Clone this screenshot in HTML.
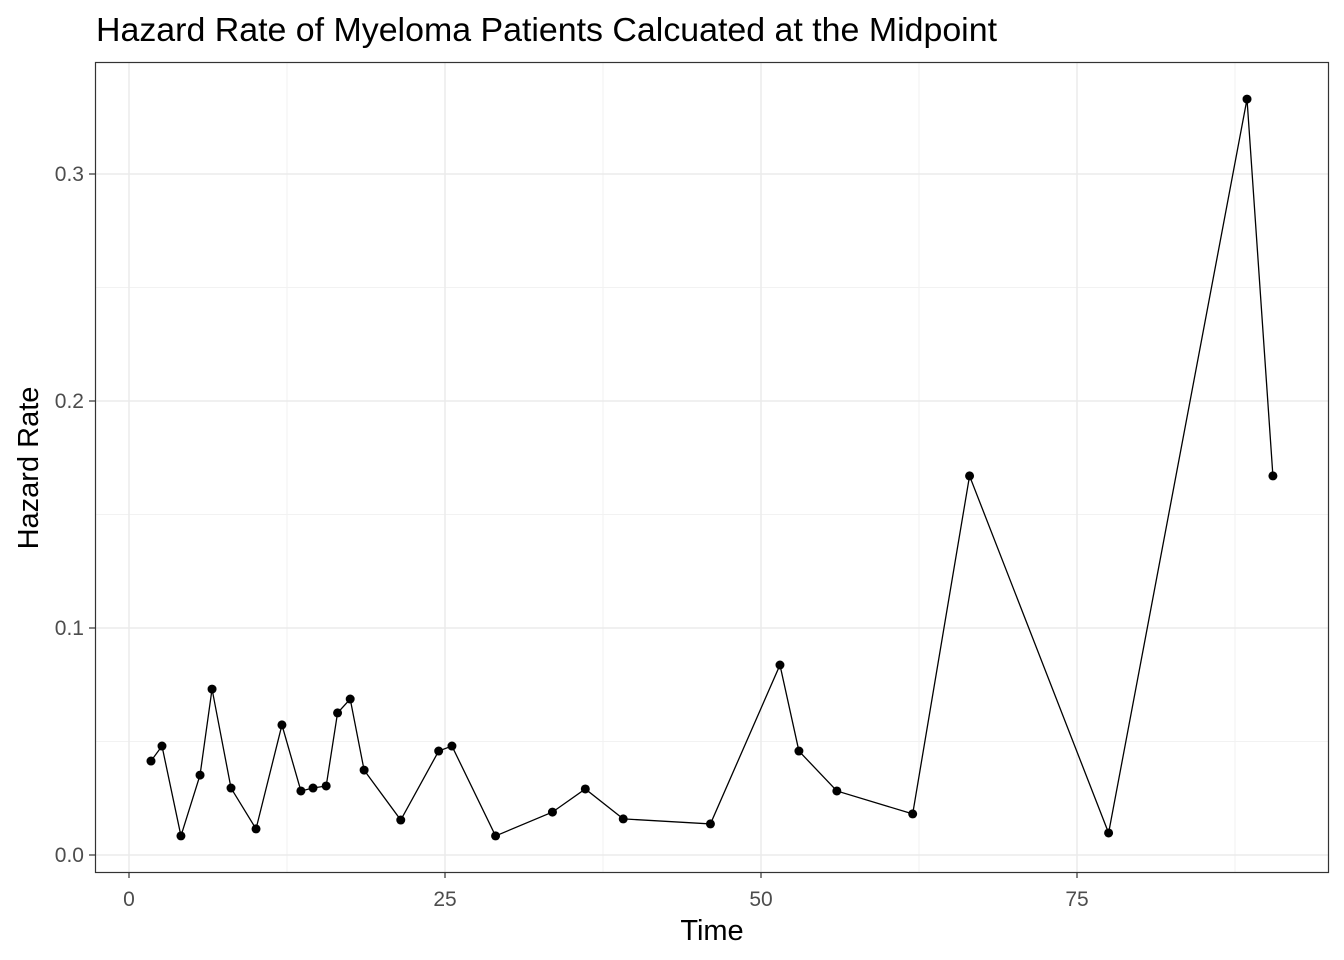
<!DOCTYPE html>
<html><head><meta charset="utf-8"><style>
body{margin:0;background:#fff;}
svg{display:block;font-family:"Liberation Sans",Arial,sans-serif;}
</style></head><body>
<svg id="chart" width="1344" height="960">
<text x="96" y="41" font-size="33" textLength="901" lengthAdjust="spacingAndGlyphs" fill="#000">Hazard Rate of Myeloma Patients Calcuated at the Midpoint</text>
<g id="grid"></g>
<rect x="95.5" y="62.5" width="1233" height="810" fill="none" stroke="#333" stroke-width="1.2"/>
<g id="axes"></g>
<g id="series"></g>
<text x="712" y="940" font-size="29" text-anchor="middle">Time</text>
<text transform="translate(38,468) rotate(-90)" font-size="29" text-anchor="middle">Hazard Rate</text>
</svg>
<script>
const times = [1.74,2.61,4.11,5.62,6.57,8.07,10.05,12.1,13.6,14.56,15.6,16.5,17.5,18.6,21.5,24.5,25.55,29.0,33.5,36.1,39.1,46.0,51.5,53.0,56.0,62.0,66.5,77.5,88.45,90.5];
const hazards = [0.0414,0.048,0.0084,0.0352,0.0731,0.0295,0.0115,0.0573,0.0282,0.0295,0.0304,0.0626,0.0687,0.0374,0.0154,0.0458,0.048,0.0084,0.0189,0.0291,0.0159,0.0137,0.0837,0.0458,0.0282,0.0181,0.167,0.0097,0.333,0.167];
const xTicks = [0,25,50,75];
const xTickLabels = ["0","25","50","75"];
const yTicks = [0,0.1,0.2,0.3];
const yTickLabels = ["0.0","0.1","0.2","0.3"];

const NS="http://www.w3.org/2000/svg";
const X=v=>129+v*12.64;
const Y=v=>855-v*2270;
function mk(tag,attrs,parent){const e=document.createElementNS(NS,tag);for(const k in attrs)e.setAttribute(k,attrs[k]);parent.appendChild(e);return e;}
const grid=document.getElementById('grid'),axes=document.getElementById('axes'),series=document.getElementById('series');
[12.5,37.5,62.5,87.5].forEach(v=>{const l=mk('line',{x1:X(v),x2:X(v),y1:63,y2:872,stroke:'#f2f2f2','stroke-width':1},grid);

});
[0.05,0.15,0.25].forEach(v=>{const l=mk('line',{x1:96,x2:1328,y1:Y(v),y2:Y(v),stroke:'#f2f2f2','stroke-width':1},grid);

});
xTicks.forEach((v,i)=>{
const l=mk('line',{x1:X(v),x2:X(v),y1:63,y2:872,stroke:'#ebebeb','stroke-width':1.5},grid);


const t=mk('line',{x1:X(v),x2:X(v),y1:872,y2:878,stroke:'#333','stroke-width':1.2},axes);


const tx=mk('text',{x:X(v),y:906,'font-size':21,'text-anchor':'middle',fill:'#4d4d4d'},axes);tx.textContent=xTickLabels[i];


});
yTicks.forEach((v,i)=>{
const l=mk('line',{x1:96,x2:1328,y1:Y(v),y2:Y(v),stroke:'#ebebeb','stroke-width':1.5},grid);


const t=mk('line',{x1:89,x2:95,y1:Y(v),y2:Y(v),stroke:'#333','stroke-width':1.2},axes);


const tx=mk('text',{x:84,y:Y(v)+7,'font-size':21,'text-anchor':'end',fill:'#4d4d4d'},axes);tx.textContent=yTickLabels[i];


});
const pl=mk('polyline',{points:times.map((t,i)=>X(t)+','+Y(hazards[i])).join(' '),fill:'none',stroke:'#000','stroke-width':1.3},series);


times.forEach((t,i)=>{const c=mk('circle',{cx:X(t),cy:Y(hazards[i]),r:4.5,fill:'#000'},series);

});
</script>
</body></html>
